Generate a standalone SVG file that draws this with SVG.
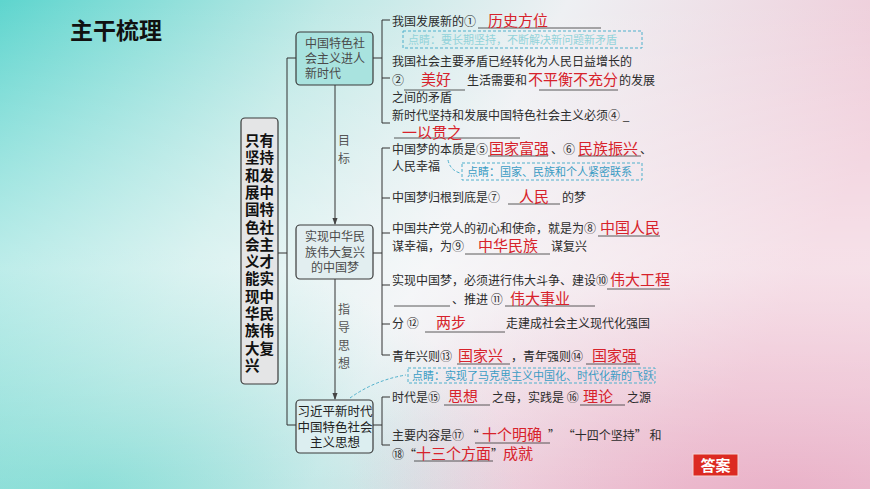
<svg xmlns="http://www.w3.org/2000/svg" width="870" height="489" viewBox="0 0 870 489">
<defs>
<linearGradient id="bg" x1="0" y1="0" x2="1" y2="0.3">
<stop offset="0" stop-color="#5ed5ce"/>
<stop offset="0.35" stop-color="#bfe9e6"/>
<stop offset="0.6" stop-color="#eef0f3"/>
<stop offset="1" stop-color="#efc9d7"/>
</linearGradient>
<linearGradient id="bg2" x1="0" y1="0" x2="0" y2="1">
<stop offset="0" stop-color="#ffffff" stop-opacity="0"/>
<stop offset="0.55" stop-color="#ffffff" stop-opacity="0.45"/>
<stop offset="1" stop-color="#ffffff" stop-opacity="0"/>
</linearGradient>
<radialGradient id="bl" cx="0.1" cy="1" r="0.5">
<stop offset="0" stop-color="#7fdcd4" stop-opacity="0.8"/>
<stop offset="1" stop-color="#7fdcd4" stop-opacity="0"/>
</radialGradient>
<radialGradient id="br" cx="0.9" cy="1" r="0.5">
<stop offset="0" stop-color="#e8a9c3" stop-opacity="0.7"/>
<stop offset="1" stop-color="#e8a9c3" stop-opacity="0"/>
</radialGradient>
<marker id="ah" viewBox="0 0 8 8" refX="7" refY="4" markerWidth="7" markerHeight="7" orient="auto">
<path d="M0,1 L8,4 L0,7 z" fill="#444"/>
</marker>
</defs>
<style>
.t{font-family:"Noto Sans CJK SC","Noto Sans",sans-serif;font-size:12px;fill:#2b2b2b}
.a{font-size:15px;fill:#d7222b}
.ln{stroke:#333;stroke-width:1;fill:none}
.ul{stroke:#333;stroke-width:0.8}
.box{stroke:#3a3a3a;stroke-width:1.2}
.note{fill:none;stroke:#4fb0cc;stroke-width:1;stroke-dasharray:3 2}
.nt{font-family:"Noto Sans CJK SC","Noto Sans",sans-serif;font-size:11px;fill:#3a9cc4}
.mt{font-family:"Noto Sans CJK SC","Noto Sans",sans-serif;font-size:12px;fill:#4a4a4a}
.lb{font-family:"Noto Sans CJK SC","Noto Sans",sans-serif;font-size:12px;fill:#555}
</style>
<rect width="870" height="489" fill="url(#bg)"/>
<rect width="870" height="489" fill="url(#bl)"/>
<rect width="870" height="489" fill="url(#br)"/>
<rect width="870" height="489" fill="url(#bg2)"/>

<text x="70" y="39" font-family="Noto Sans CJK SC,sans-serif" font-size="23" font-weight="bold" fill="#111">主干梳理</text>

<g id="connectors">
<line class="ln" x1="278" y1="253" x2="287" y2="253"/>
<line class="ln" x1="287" y1="58" x2="287" y2="425"/>
<line class="ln" x1="287" y1="58" x2="296" y2="58"/>
<line class="ln" x1="287" y1="425" x2="296" y2="425"/>
<line class="ln" x1="335" y1="85" x2="335" y2="224" marker-end="url(#ah)"/>
<line class="ln" x1="335" y1="279" x2="335" y2="399" marker-end="url(#ah)"/>
<text class="lb" x="338 338" y="145 163">目标</text>
<text class="lb" x="338 338 338 338" y="314 332 350 368">指导思想</text>
<path class="ln" d="M373,58 H382 M382,20 V123 M382,20 H390 M382,78 H390 M382,123 H390"/>
<path class="ln" d="M373,253 H382 M382,148 V355 M382,148 H390 M382,198 H390 M382,233 H390 M382,285 H390 M382,324 H390 M382,355 H390"/>
<path class="ln" d="M373,425 H382 M382,397 V445 M382,397 H390 M382,445 H390"/>
<path d="M448,160 Q450,170 460,173" fill="none" stroke="#4fb0cc" stroke-width="1" stroke-dasharray="3 2"/>
<path d="M350,398 Q375,380 406,375" fill="none" stroke="#4fb0cc" stroke-width="1" stroke-dasharray="3 2"/>
</g>

<g id="root">
<rect class="box" x="241" y="118" width="37" height="266" rx="4" fill="#e4e5e6"/>
<text font-family="Noto Sans CJK SC,sans-serif" font-size="14.5" font-weight="bold" fill="#111"
 x="245 259.5 245 259.5 245 259.5 245 259.5 245 259.5 245 259.5 245 259.5 245 259.5 245 259.5 245 259.5 245 259.5 245 259.5 245 259.5 245"
 y="146 146 163.3 163.3 180.6 180.6 197.9 197.9 215.2 215.2 232.5 232.5 249.8 249.8 267.1 267.1 284.4 284.4 301.7 301.7 319 319 336.3 336.3 353.6 353.6 370.9">只有坚持和发展中国特色社会主义才能实现中华民族伟大复兴</text>
</g>

<g id="node-newera">
<rect class="box" x="296" y="32" width="77" height="53" rx="4" fill="#a9e3df"/>
<text class="mt"
 x="305 317 329 341 353 305 317 329 341 353 305 317 329"
 y="48 48 48 48 48 63 63 63 63 63 78 78 78">中国特色社会主义进人新时代</text>
</g>

<g id="node-dream">
<rect class="box" x="296" y="225" width="77" height="54" rx="4" fill="#e2eef0"/>
<text class="mt"
 x="305 317 329 341 353 305 317 329 341 353 311 323 335 347"
 y="241 241 241 241 241 257 257 257 257 257 272 272 272 272">实现中华民族伟大复兴的中国梦</text>
</g>

<g id="node-thought">
<rect class="box" x="296" y="400" width="77" height="53" rx="4" fill="#dceef0"/>
<text class="mt" font-size="12.5" style="fill:#222;font-size:12.5px"
 x="297.5 310 322.5 335 347.5 360 297.5 310 322.5 335 347.5 360 310 322.5 335 347.5"
 y="416 416 416 416 416 416 432 432 432 432 432 432 447 447 447 447">习近平新时代中国特色社会主义思想</text>
</g>

<g id="branch-newera">
<line class="ul" x1="478" y1="28" x2="601" y2="28"/>
<text class="t" x="392" y="26">我国发展新的①<tspan class="a" x="488" y="26">历史方位</tspan></text>
<rect class="note" x="403" y="31" width="239" height="17"/>
<text class="nt" x="408" y="44" style="fill:#93d3da">点睛：要长期坚持，不断解决新问题新矛盾</text>
<text class="t" x="392" y="66">我国社会主要矛盾已经转化为人民日益增长的</text>
<line class="ul" x1="404" y1="90" x2="465" y2="90"/>
<line class="ul" x1="539" y1="90" x2="618" y2="90"/>
<text class="t" x="392" y="85">②<tspan class="a" x="421" y="85">美好</tspan><tspan x="467" y="85">生活需要和</tspan><tspan class="a" x="528" y="85">不平衡不充分</tspan><tspan x="619" y="85">的发展</tspan></text>
<text class="t" x="392" y="102">之间的矛盾</text>
<text class="t" x="392" y="119.5">新时代坚持和发展中国特色社会主义必须④ _</text>
<line class="ul" x1="394" y1="138" x2="520" y2="138"/>
<text class="t a" x="402" y="137.5" style="font-size:15px">一以贯之</text>
</g>

<g id="branch-dream">
<line class="ul" x1="488" y1="156" x2="548" y2="156"/>
<line class="ul" x1="578" y1="156" x2="641" y2="156"/>
<text class="t" x="392" y="154">中国梦的本质是⑤<tspan class="a" x="489" y="154">国家富强</tspan><tspan x="551" y="154">、⑥</tspan><tspan class="a" x="578" y="154">民族振兴</tspan><tspan x="640" y="154">、</tspan></text>
<text class="t" x="392" y="171">人民幸福</text>
<rect class="note" x="462" y="163" width="180" height="17"/>
<text class="nt" x="467" y="176">点睛：国家、民族和个人紧密联系</text>
<line class="ul" x1="508" y1="204" x2="560" y2="204"/>
<text class="t" x="392" y="202">中国梦归根到底是⑦<tspan class="a" x="519" y="202">人民</tspan><tspan x="562" y="202">的梦</tspan></text>
<line class="ul" x1="598" y1="236" x2="660" y2="236"/>
<text class="t" x="392" y="233">中国共产党人的初心和使命，就是为⑧<tspan class="a" x="600" y="233">中国人民</tspan></text>
<line class="ul" x1="465" y1="254" x2="550" y2="254"/>
<text class="t" x="392" y="251">谋幸福，为⑨<tspan class="a" x="478" y="251">中华民族</tspan><tspan x="551" y="251">谋复兴</tspan></text>
<line class="ul" x1="607" y1="289" x2="670" y2="289"/>
<text class="t" x="392" y="285">实现中国梦，必须进行伟大斗争、建设⑩<tspan class="a" x="610" y="285">伟大工程</tspan></text>
<line class="ul" x1="394" y1="306" x2="450" y2="306"/>
<line class="ul" x1="505" y1="306" x2="595" y2="306"/>
<text class="t" x="452" y="304">、推进 ⑪<tspan class="a" x="510" y="304">伟大事业</tspan></text>
<line class="ul" x1="425" y1="332" x2="505" y2="332"/>
<text class="t" x="392" y="328">分 ⑫<tspan class="a" x="436" y="328">两步</tspan><tspan x="506" y="328">走建成社会主义现代化强国</tspan></text>
<line class="ul" x1="457" y1="364" x2="510" y2="364"/>
<line class="ul" x1="586" y1="364" x2="640" y2="364"/>
<text class="t" x="392" y="361">青年兴则⑬<tspan class="a" x="458" y="361">国家兴</tspan><tspan x="511" y="361">，青年强则⑭</tspan><tspan class="a" x="592" y="361">国家强</tspan></text>
<rect class="note" x="408" y="368" width="247" height="15"/>
<text class="nt" x="412" y="380">点睛：实现了马克思主义中国化、时代化新的飞跃</text>
</g>

<g id="branch-thought">
<line class="ul" x1="444" y1="405" x2="490" y2="405"/>
<line class="ul" x1="580" y1="405" x2="625" y2="405"/>
<text class="t" x="392" y="402">时代是⑮<tspan class="a" x="448" y="402">思想</tspan><tspan x="492" y="402">之母，实践是 ⑯</tspan><tspan class="a" x="583" y="402">理论</tspan><tspan x="627" y="402">之源</tspan></text>
<line class="ul" x1="475" y1="443" x2="550" y2="443"/>
<text class="t" x="392" y="440">主要内容是⑰ “<tspan class="a" x="482" y="440">十个明确</tspan><tspan x="548" y="440">” “十四个坚持” 和</tspan></text>
<line class="ul" x1="414" y1="461" x2="493" y2="461"/>
<text class="t" x="392" y="459">⑱“<tspan class="a" x="416" y="459">十三个方面</tspan><tspan x="491" y="459">”</tspan><tspan class="a" x="503" y="459">成就</tspan></text>
</g>

<g id="answer-button">
<rect x="693" y="454" width="45" height="22" fill="#dc2a22" stroke="#f3d6d6" stroke-width="1"/>
<text x="715.5" y="471" text-anchor="middle" font-family="Noto Sans CJK SC,sans-serif" font-size="15" font-weight="bold" fill="#fff">答案</text>
</g>
</svg>
